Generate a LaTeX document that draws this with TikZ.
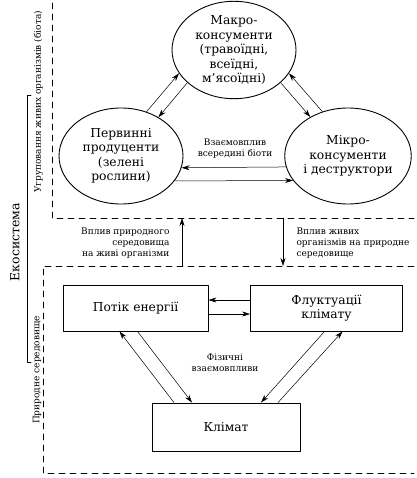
\documentclass[tikz,border=0pt]{standalone}
\usepackage{fontspec}
\setmainfont{DejaVu Serif}
\usetikzlibrary{shapes.geometric,arrows.meta}
\begin{document}
\begin{tikzpicture}[x=1pt, y=1pt, font=\fontsize{12.3}{14.5}\selectfont, line join=round, line cap=round, >={Stealth[length=8pt,width=5pt]},
	biota/.style={draw, ellipse, line width=0.9pt, minimum width=124pt, minimum height=96pt, inner sep=0pt, align=center},
	envbox/.style={draw, rectangle, line width=0.9pt, minimum height=46pt, inner sep=0pt, align=center},
	link/.style={->, line width=0.5pt},
	zone/.style={line width=0.8pt, dash pattern=on 6pt off 5pt},
	small/.style={font=\fontsize{9}{11}\selectfont}]
				\useasboundingbox (0,0) rectangle (416,-478);
				% biota
				\node[biota] (macro) at (234,-50) {Макро-\\консументи\\(травоїдні,\\всеїдні,\\м’ясоїдні)};
				\node[biota] (prod) at (121,-156) {Первинні\\продуценти\\(зелені\\рослини)};
				\node[biota] (micro) at (348,-156) {Мікро-\\консументи\\і деструктори};
				% environment
				\node[envbox, minimum width=145pt] (energy) at (135.5,-308) {Потік енергії};
				\node[envbox, minimum width=152pt] (fluct) at (326.5,-308) {Флуктуації\\клімату};
				\node[envbox, minimum width=148pt, minimum height=48pt] (climate) at (226,-427) {Клімат};
				% zones
				\draw[zone] (52,-3) -- (52,-218) -- (414,-218);
				\draw[zone] (414,-266) -- (43,-266) -- (43,-473) -- (414,-473);
				\draw[line width=0.6pt] (31,-95) -- (27,-95) -- (27,-362) -- (31,-362);
				\node[rotate=90, font=\fontsize{12.5}{14}\selectfont] (eco) at (15,-242) {Екосистема};
				\node[rotate=90, small] (biotalbl) at (38.5,-102) {Угруповання живих організмів (біота)};
				\node[rotate=90, small] (envlbl) at (37,-370) {Природне середовище};
				% links inside biota
				\draw[link] (prod.60) -- (macro.203);
				\draw[link] (macro.215) -- (prod.46);
				\draw[link] (macro.325) -- (micro.134);
				\draw[link] (micro.120) -- (macro.337);
				\draw[link] (micro.190.33) -- (prod.349.67);
				\draw[link] (prod.335.92) -- (micro.204.08);
				\node[small, align=center] (inbiota) at (235,-149) {Взаємовплив\\всередині біоти};
				% links between zones
				\coordinate (upfoot) at (182,-266);
				\coordinate (uphead) at (182,-218);
				\coordinate (downtop) at (283,-218);
				\coordinate (downfoot) at (283,-266);
				\draw[link] (upfoot) -- (uphead);
				\draw[link] (downtop) -- (downfoot);
				\node[small, align=right, anchor=east] (envon) at (173,-243) {Вплив природного\\середовища\\на живі організми};
				\node[small, align=left, anchor=west] (lifeon) at (293,-243) {Вплив живих\\організмів на природне\\середовище};
				% physical links
				\draw[link] ([yshift=8pt]fluct.west) -- ([yshift=8pt]energy.east);
				\draw[link] ([yshift=-6pt]energy.east) -- ([yshift=-6pt]fluct.west);
				\draw[link] ([xshift=2pt]energy.south) -- ([xshift=-34pt]climate.north);
				\draw[link] ([xshift=-52pt]climate.north) -- ([xshift=-16pt]energy.south);
				\draw[link] ([xshift=-2pt]fluct.south) -- ([xshift=35pt]climate.north);
				\draw[link] ([xshift=52pt]climate.north) -- ([xshift=16pt]fluct.south);
				\node[small, align=center] (phys) at (225,-363) {Фізичні\\взаємовпливи};
			\end{tikzpicture}
\end{document}
